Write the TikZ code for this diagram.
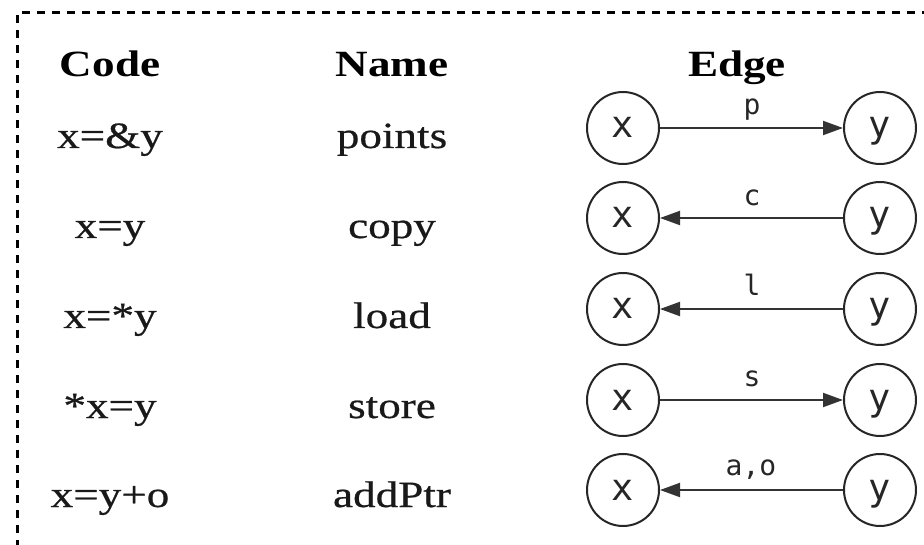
\documentclass[tikz,border=0pt]{standalone}
\usepackage{fontspec}
\setmainfont[FakeStretch=1.22]{Liberation Serif}
\newfontfamily\cellfont[FakeStretch=1.22,FakeBold=0.6]{Liberation Serif}
\newfontfamily\edgefont{DejaVu Sans Mono}
\usetikzlibrary{arrows.meta}

\tikzset{
  frame/.style={line width=3pt, dash pattern=on 8pt off 7pt, color=black},
  head/.style={anchor=base, font=\fontsize{37}{40}\selectfont\bfseries, text=black},
  cell/.style={anchor=base, font=\cellfont\fontsize{37}{40}\selectfont, text=black!90},
  var/.style={circle, draw=black!85, line width=2pt, minimum size=72pt, inner sep=0pt,
    text height=20pt, text depth=0pt,
    font=\edgefont\fontsize{37}{39}\selectfont, text=black!85},
  rel/.style={line width=2pt, draw=black!80,
    -{Triangle[length=20pt,width=14pt]}},
  tag/.style={anchor=base, font=\edgefont\fontsize{28}{30}\selectfont, text=black!85},
}

\begin{document}
\begin{tikzpicture}[x=1pt,y=-1pt]
  \useasboundingbox (0,0) rectangle (924,545);

  % partial dashed frame (top and left sides)
  \coordinate (fb) at (17,548);
  \coordinate (fc) at (17,13);
  \coordinate (fr) at (926,13);
  \draw[frame] (fb) -- (fc) -- (fr);

  % column headers
  \node[head] (hcode) at (110,77) {Code};
  \node[head] (hname) at (392,77) {Name};
  \node[head] (hedge) at (737,77) {Edge};

  % table rows: code, name
  \node[cell] (c1) at (110,148) {x=\&y};
  \node[cell] (n1) at (392,148) {points};
  \node[cell] (c2) at (110,238) {x=y};
  \node[cell] (n2) at (392,238) {copy};
  \node[cell] (c3) at (110,328) {x=*y};
  \node[cell] (n3) at (392,328) {load};
  \node[cell] (c4) at (110,418) {*x=y};
  \node[cell] (n4) at (392,418) {store};
  \node[cell] (c5) at (110,507) {x=y+o};
  \node[cell] (n5) at (392,507) {addPtr};

  % edge column: variable nodes
  \node[var] (x1) at (623,128) {x};
  \node[var] (y1) at (880,128) {y};
  \node[var] (x2) at (623,218) {x};
  \node[var] (y2) at (880,218) {y};
  \node[var] (x3) at (623,309) {x};
  \node[var] (y3) at (880,309) {y};
  \node[var] (x4) at (623,400) {x};
  \node[var] (y4) at (880,400) {y};
  \node[var] (x5) at (623,490) {x};
  \node[var] (y5) at (880,490) {y};

  % edges
  \draw[rel] (x1) -- (y1);
  \draw[rel] (y2) -- (x2);
  \draw[rel] (y3) -- (x3);
  \draw[rel] (x4) -- (y4);
  \draw[rel] (y5) -- (x5);

  % edge labels
  \node[tag] (l1) at (752,115) {p};
  \node[tag] (l2) at (752,206) {c};
  \node[tag] (l3) at (752,296) {l};
  \node[tag] (l4) at (752,387) {s};
  \node[tag] (l5) at (751,475) {a,o};
\end{tikzpicture}
\end{document}
